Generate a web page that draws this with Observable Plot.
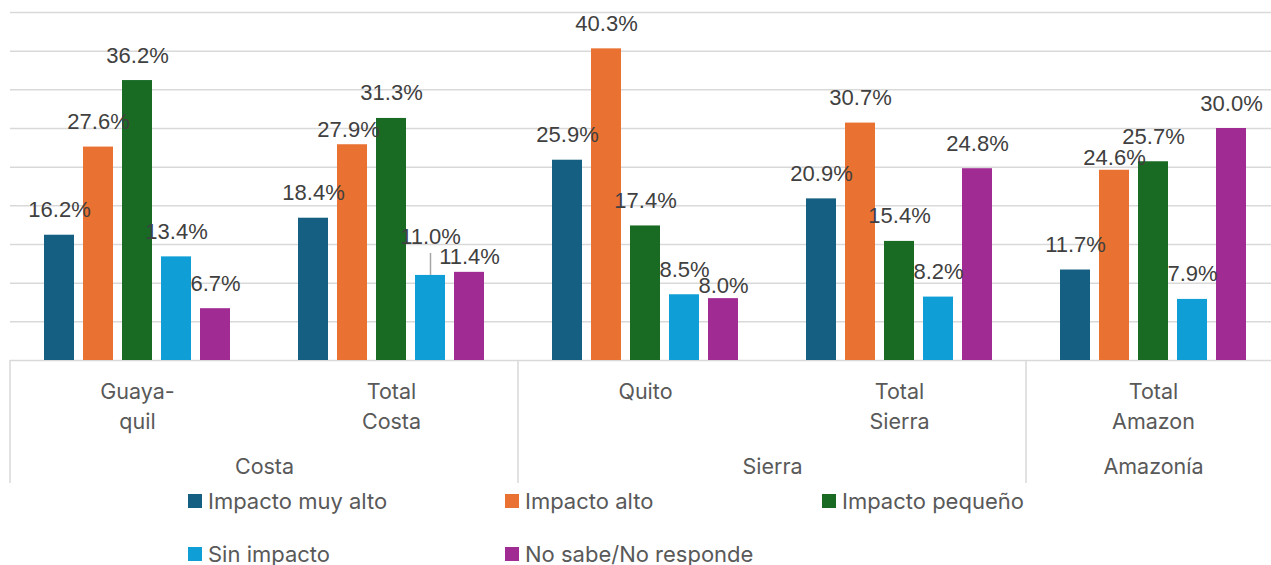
<!DOCTYPE html>
<html>
<head>
<meta charset="utf-8">
<script src="https://cdn.jsdelivr.net/npm/d3@7"></script>
<script src="https://cdn.jsdelivr.net/npm/@observablehq/plot@0.6"></script>
<style>
  html, body { margin: 0; padding: 0; background: #fff; overflow: hidden; }
  #wrap { position: relative; width: 1271px; height: 565px; overflow: hidden; }
  #legend { position: absolute; left: 188px; top: 474px; display: grid;
    grid-template-columns: 317px 317px 317px; grid-auto-rows: 53px;
    font-family: Inter, "Liberation Sans", sans-serif; font-size: 22px; color: #595959; }
  #legend .item { display: flex; align-items: center; white-space: nowrap; }
  #legend .sw { width: 14px; height: 14px; margin-right: 6px; flex: none; }
</style>
</head>
<body>
<div id="wrap"><div id="chart"></div><div id="legend"></div></div>
<script>
// ---- data ----
const groups = ["Guayaquil", "Total Costa", "Quito", "Total Sierra", "Total Amazon"];
const groupLabels = ["Guaya-\nquil", "Total\nCosta", "Quito", "Total\nSierra", "Total\nAmazon"];
const groupRegion = ["Costa", "Costa", "Sierra", "Sierra", "Amazonía"];
const regions = ["Costa", "Sierra", "Amazonía"];
const series = ["Impacto muy alto", "Impacto alto", "Impacto pequeño", "Sin impacto", "No sabe/No responde"];
const colors = ["#156082", "#E97132", "#196B24", "#0F9ED5", "#A02B93"];
const impactoMuyAlto = [16.2, 18.4, 25.9, 20.9, 11.7];
const impactoAlto = [27.6, 27.9, 40.3, 30.7, 24.6];
const impactoPequeno = [36.2, 31.3, 17.4, 15.4, 25.7];
const sinImpacto = [13.4, 11.0, 8.5, 8.2, 7.9];
const noSabe = [6.7, 11.4, 8.0, 24.8, 30.0];
const yTicks = [0, 5, 10, 15, 20, 25, 30, 35, 40, 45];

// ---- layout-only: nudged data labels (as in the original) ----
const labelNudges = [
  {keys: ["Total Costa|Impacto alto"], dx: -4, dy: -15},
  {keys: ["Total Costa|No sabe/No responde"], dx: 0, dy: -15},
  {keys: ["Quito|No sabe/No responde"], dx: 0, dy: -13},
  {keys: ["Total Amazon|Impacto alto"], dx: 0, dy: -12},
  {keys: ["Total Costa|Sin impacto"], dx: 0, dy: -38, leader: true}
];

const seriesValues = [impactoMuyAlto, impactoAlto, impactoPequeno, sinImpacto, noSabe];
const rows = series.flatMap((s, si) => groups.map((g, gi) => ({group: g, series: s, value: seriesValues[si][gi]})));
const key = d => d.group + "|" + d.series;
const nudged = new Set(labelNudges.flatMap(n => n.keys));

const labelStyle = {fx: "group", x: "series", y: "value", text: d => d.value.toFixed(1) + "%",
  fontFamily: "Liberation Sans, Arial, sans-serif", fontSize: 22, fill: "#404040"};

// region labels centred under their groups
const regionLabels = regions.map(r => {
  const gs = groups.filter((g, i) => groupRegion[i] === r);
  const even = gs.length % 2 === 0;
  return {label: r, group: gs[even ? gs.length / 2 : (gs.length - 1) / 2], even};
});

const axisText = {fontSize: 21.5, fill: "#595959", fontFamily: "Inter, sans-serif"};

const chart = Plot.plot({
  width: 1282,
  height: 483,
  marginLeft: 9,
  marginRight: 0.5,
  marginTop: 12,
  marginBottom: 123,
  style: "max-width:none;background:#fff;font-family:Inter,sans-serif;",
  fx: {domain: groups, padding: 0, axis: null},
  x: {domain: series, paddingInner: 0.236, paddingOuter: 0.86, axis: null},
  y: {domain: [0, 45], axis: null},
  color: {domain: series, range: colors},
  marks: [
    Plot.ruleY(yTicks, {y: d => d, stroke: "#D9D9D9", strokeWidth: 1.5}),
    Plot.barY(rows, {fx: "group", x: "series", y: "value", fill: "series"}),
    Plot.text(rows.filter(d => !nudged.has(key(d))), {...labelStyle, dy: -25}),
    ...labelNudges.map(n => Plot.text(rows.filter(d => n.keys.includes(key(d))), {...labelStyle, dx: n.dx, dy: n.dy})),
    ...labelNudges.filter(n => n.leader).map(n => Plot.ruleX(rows.filter(d => n.keys.includes(key(d))),
      {fx: "group", x: "series", y1: "value", y2: "value", insetTop: -22, stroke: "#A6A6A6", strokeWidth: 1.5})),
    Plot.text(groups, {fx: d => d, text: (d, i) => groupLabels[i], frameAnchor: "bottom", lineAnchor: "top",
      dy: 18, lineHeight: 1.37, ...axisText}),
    Plot.text(regionLabels.filter(d => d.even), {fx: "group", text: "label", frameAnchor: "bottom-left", textAnchor: "middle",
      lineAnchor: "middle", dy: 107, ...axisText}),
    Plot.text(regionLabels.filter(d => !d.even), {fx: "group", text: "label", frameAnchor: "bottom",
      lineAnchor: "middle", dy: 107, ...axisText})
  ]
});
document.getElementById("chart").appendChild(chart);

// region separators in the category axis, positioned from Plot's own scales
const fxS = chart.scale("fx"), yS = chart.scale("y");
const svg = d3.select(chart);
regions.forEach(r => {
  const first = groups[groupRegion.indexOf(r)];
  const xp = fxS.apply(first);
  svg.append("line").attr("x1", xp).attr("x2", xp).attr("y1", yS.apply(0)).attr("y2", 483)
    .attr("stroke", "#D9D9D9").attr("stroke-width", 1.5);
});

// legend
const legend = d3.select("#legend");
series.forEach((s, i) => {
  const it = legend.append("div").attr("class", "item");
  it.append("div").attr("class", "sw").style("background", colors[i]);
  it.append("span").text(s);
});
</script>
</body>
</html>
